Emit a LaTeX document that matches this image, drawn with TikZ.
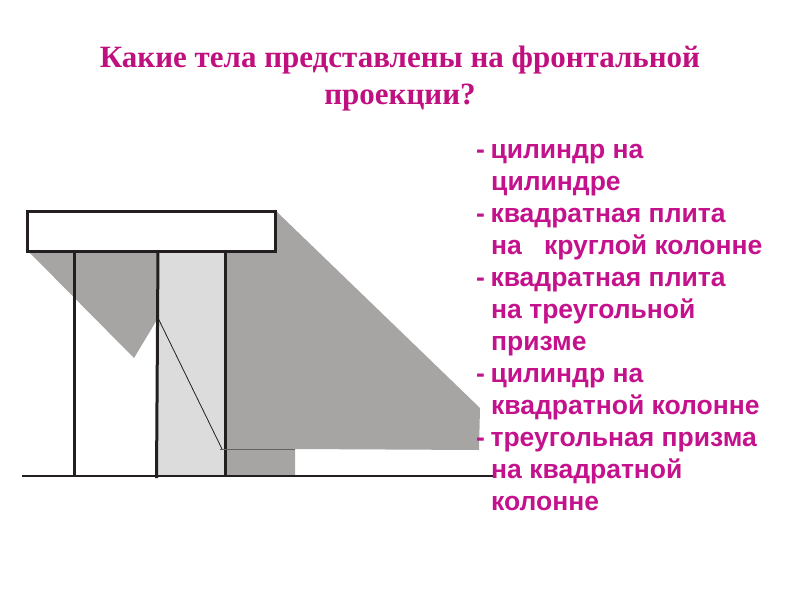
\documentclass[tikz,border=0pt]{standalone}
\usepackage{fontspec}
\setmainfont{Liberation Serif}
\newfontfamily\listfont{Liberation Sans}
\usepackage{xcolor}
\definecolor{titlepink}{HTML}{C0107F}
\definecolor{listpink}{HTML}{C4128C}
\definecolor{shadowgray}{HTML}{A7A5A4}
\definecolor{lightgray}{HTML}{DCDCDC}
\definecolor{edgedark}{HTML}{231F20}
\newcommand{\listdash}{-\hspace{5.5pt}}
\begin{document}
\begin{tikzpicture}[
    x=1pt, y=-1pt,
    thickedge/.style={draw=edgedark, line width=3pt},
    thinedge/.style={draw=edgedark, line width=0.8pt},
    titletext/.style={text=titlepink, font=\fontsize{31}{37}\selectfont\bfseries, align=center, inner sep=0pt},
    listtext/.style={text=listpink, font=\listfont\fontsize{26.5}{32}\selectfont\bfseries, anchor=base west, inner sep=0pt}
]
\useasboundingbox (0,0) rectangle (800,600);

% Shadows and light face
\fill[shadowgray] (276,211) -- (480,408) -- (479,450) -- (295,449) -- (295,476) -- (225,476) -- (225,251) -- cycle;
\fill[shadowgray] (28,251) -- (134,358) -- (158,318) -- (158,251) -- cycle;
\fill[lightgray] (158,251) -- (225,251) -- (225,476) -- (157,476) -- cycle;

% Coordinates
\coordinate (groundL) at (22,476);
\coordinate (groundR) at (493,476);
\coordinate (colLtop) at (74,251);
\coordinate (colLbot) at (74,476);
\coordinate (colMtop) at (158,251);
\coordinate (colMbot) at (156.5,478);
\coordinate (colRtop) at (225,251);
\coordinate (colRbot) at (225,476);
\coordinate (edgeA) at (158,318);
\coordinate (edgeB) at (222,449);
\coordinate (edgeC) at (220,449);
\coordinate (edgeD) at (295,449);

% Lines
\draw[thickedge, fill=white] (27,211) rectangle (275.5,251);
\draw[thickedge] (colLtop) -- (colLbot);
\draw[thickedge] (colMtop) -- (colMbot);
\draw[thickedge] (colRtop) -- (colRbot);
\draw[thickedge, line width=2.2pt] (groundL) -- (groundR);
\draw[thinedge] (edgeA) -- (edgeB);
\draw[draw=edgedark!70, line width=1pt] (edgeC) -- (edgeD);

% Text
\node[titletext] (question) at (400,78.5) {Какие тела представлены на фронтальной\\проекции?};
\node[listtext] at (476,158) {\listdash цилиндр на};
\node[listtext] at (491,190) {цилиндре};
\node[listtext] at (476,222) {\listdash квадратная плита};
\node[listtext] at (491,254) {на\ \ \ круглой колонне};
\node[listtext] at (476,286) {\listdash квадратная плита};
\node[listtext] at (491,318) {на треугольной};
\node[listtext] at (491,350) {призме};
\node[listtext] at (476,382) {\listdash цилиндр на};
\node[listtext] at (491,414) {квадратной колонне};
\node[listtext] at (476,446) {\listdash треугольная призма};
\node[listtext] at (491,478) {на квадратной};
\node[listtext] at (491,510) {колонне};

\end{tikzpicture}
\end{document}
